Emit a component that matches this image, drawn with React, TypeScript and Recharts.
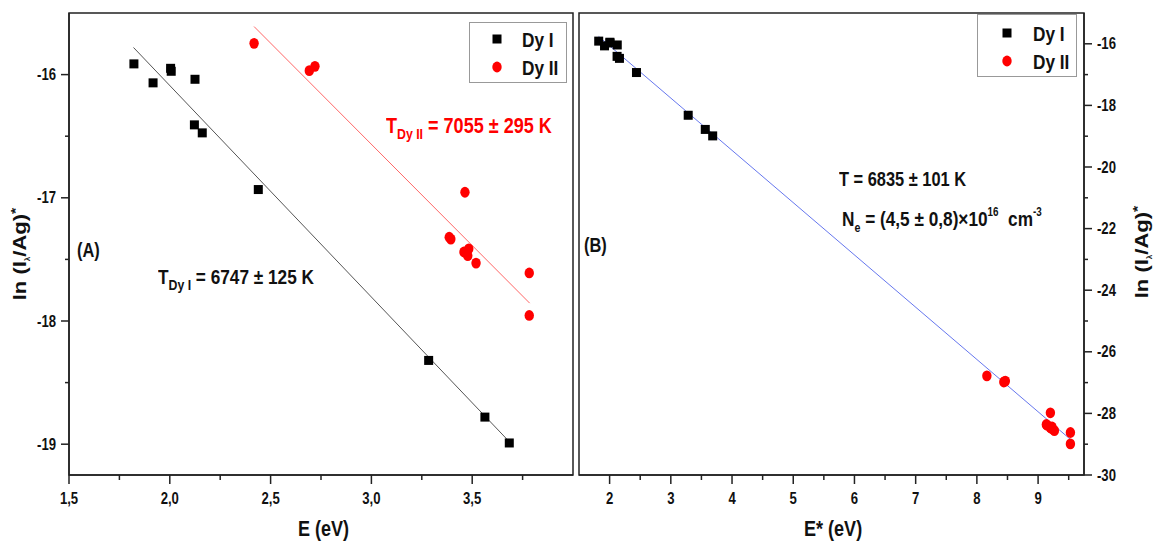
import React from "react";
import { ComposedChart, Scatter, Line, XAxis, YAxis, ReferenceArea } from "recharts";

// Dy I lines (E = E* for neutral atoms)
const eDyI = [1.822, 1.917, 2.004, 2.007, 2.125, 2.122, 2.161, 2.439, 3.284, 3.563, 3.684];
const lnDyI = [-15.913, -16.067, -15.949, -15.973, -16.038, -16.408, -16.473, -16.933, -18.32, -18.78, -18.99];

// Dy II lines, panel A
const eDyII = [2.418, 2.692, 2.72, 3.464, 3.386, 3.394, 3.459, 3.483, 3.478, 3.519, 3.783, 3.783];
const lnDyII = [-15.746, -15.968, -15.933, -16.955, -17.32, -17.335, -17.44, -17.414, -17.47, -17.53, -17.61, -17.955];

// Dy II lines, panel B (corrected E*, ln)
const eStarDyII = [8.163, 8.44, 8.465, 9.201, 9.135, 9.145, 9.2, 9.228, 9.225, 9.266, 9.528, 9.528];
const lnStarDyII = [-26.78, -26.98, -26.95, -27.98, -28.36, -28.38, -28.46, -28.44, -28.5, -28.56, -28.62, -28.99];

// fitted lines (end points)
const fitAx = [1.82, 3.69];
const fitAy = [-15.78, -18.99];
const fitBx = [2.418, 3.785];
const fitBy = [-15.61, -17.855];
const fitSx = [1.82, 9.55];
const fitSy = [-15.76, -28.88];

// ticks
const xTicksA = [1.5, 1.75, 2, 2.25, 2.5, 2.75, 3, 3.25, 3.5, 3.75];
const xMajorA = [1.5, 2, 2.5, 3, 3.5];
const yTicksA = [-19, -18.5, -18, -17.5, -17, -16.5, -16];
const yMajorA = [-19, -18, -17, -16];
const xTicksB = [2, 2.5, 3, 3.5, 4, 4.5, 5, 5.5, 6, 6.5, 7, 7.5, 8, 8.5, 9, 9.5];
const xMajorB = [2, 3, 4, 5, 6, 7, 8, 9];
const yTicksB = [-30, -29, -28, -27, -26, -25, -24, -23, -22, -21, -20, -19, -18, -17, -16];
const yMajorB = [-30, -28, -26, -24, -22, -20, -18, -16];

const toPts = (xs: number[], ys: number[]) => xs.map((x, i) => ({ x, y: ys[i] }));

const FONT = '"Liberation Sans", Arial, sans-serif';
const SQ = 0.82; // narrow look
const AX = "#222";

const Square = (p: any) => <rect x={p.cx - 4.5} y={p.cy - 4.5} width={9} height={9} fill="#000" />;
const Dot = (p: any) => <ellipse cx={p.cx} cy={p.cy} rx={4.7} ry={5.4} fill="#f00" />;

const fmtA = (v: number) => v.toFixed(1).replace(".", ",");
const fmtB = (v: number) => String(v);

const NarrowText = ({ x, y, anchor, children }: any) => (
  <g transform={`translate(${x},${y}) scale(${SQ},1)`}>
    <text x={0} y={0} textAnchor={anchor} fontFamily={FONT} fontWeight="bold" fontSize={16} fill="#111">
      {children}
    </text>
  </g>
);

const BottomTick = ({ x, y, payload, majors, fmt }: any) => {
  const major = majors.includes(payload.value);
  return (
    <g>
      <line x1={x} x2={x} y1={y} y2={y + (major ? 9 : 5)} stroke={AX} strokeWidth={1.5} />
      {major && (
        <NarrowText x={x} y={y + 29} anchor="middle">
          {fmt(payload.value)}
        </NarrowText>
      )}
    </g>
  );
};

const SideTick = ({ x, y, payload, majors, right }: any) => {
  const major = majors.includes(payload.value);
  const len = major ? 8 : 4;
  const d = right ? 1 : -1;
  return (
    <g>
      <line x1={x} x2={x + d * len} y1={y} y2={y} stroke={AX} strokeWidth={1.5} />
      {major && (
        <NarrowText x={x + d * 13} y={y + 5.5} anchor={right ? "start" : "end"}>
          {payload.value}
        </NarrowText>
      )}
    </g>
  );
};

// html text, baseline-placed, horizontally squeezed
const T = ({ left, base, size, color = "#111", children }: any) => (
  <div
    style={{
      position: "absolute",
      left,
      top: base - size * 0.8465,
      fontFamily: FONT,
      fontWeight: "bold",
      fontSize: size,
      lineHeight: 1,
      whiteSpace: "nowrap",
      color,
      transform: `scaleX(${SQ})`,
      transformOrigin: "0 0",
    }}
  >
    {children}
  </div>
);

const Sub = ({ size, dy, children }: any) => (
  <span style={{ fontSize: size, position: "relative", top: dy }}>{children}</span>
);

const LegendBox = ({ l, t, w, h, mx, tx, b1, b2 }: any) => (
  <>
    <div
      style={{
        position: "absolute",
        left: l,
        top: t,
        width: w,
        height: h,
        border: "1px solid #999",
        background: "#fff",
        boxSizing: "border-box",
      }}
    />
    <svg width={20} height={h} style={{ position: "absolute", left: mx - 10, top: t }}>
      <rect x={5.5} y={b1 - t - 12.5} width={9} height={9} fill="#000" />
      <ellipse cx={10} cy={b2 - t - 8} rx={4.7} ry={5.4} fill="#f00" />
    </svg>
    <T left={tx} base={b1} size={21}>Dy I</T>
    <T left={tx} base={b2} size={21}>Dy II</T>
  </>
);

const YTitle = ({ cx, cy }: any) => (
  <div
    style={{
      position: "absolute",
      left: cx,
      top: cy,
      fontFamily: FONT,
      fontWeight: "bold",
      fontSize: 22,
      lineHeight: 1,
      whiteSpace: "nowrap",
      color: "#111",
      transform: `translate(-50%, -50%) scaleX(${SQ}) rotate(-90deg)`,
    }}
  >
    ln (I<Sub size={8} dy={5}>λ</Sub>/Ag)<Sub size={16} dy={-7}>*</Sub>
  </div>
);

export default function App() {
  const dyI = toPts(eDyI, lnDyI);
  const dyII = toPts(eDyII, lnDyII);
  const dyIIStar = toPts(eStarDyII, lnStarDyII);

  return (
    <div style={{ position: "absolute", left: 0, top: 0, width: 1153, height: 545, background: "#fff", overflow: "hidden" }}>
      <div style={{ position: "absolute", left: 0, top: 0 }}>
        <ComposedChart width={576} height={545} margin={{ top: 13, right: 3, left: 0, bottom: 0 }}>
          <XAxis
            type="number"
            dataKey="x"
            domain={[1.5, 4]}
            ticks={xTicksA}
            interval={0}
            height={70}
            tickSize={0}
            tickMargin={0}
            tickLine={false}
            axisLine={{ stroke: AX, strokeWidth: 1.5 }}
            tick={<BottomTick majors={xMajorA} fmt={fmtA} />}
            allowDataOverflow
          />
          <YAxis
            type="number"
            dataKey="y"
            domain={[-19.25, -15.5]}
            ticks={yTicksA}
            interval={0}
            width={69}
            tickSize={0}
            tickMargin={0}
            tickLine={false}
            axisLine={{ stroke: AX, strokeWidth: 1.5 }}
            tick={<SideTick majors={yMajorA} />}
            allowDataOverflow
          />
          <ReferenceArea x1={1.5} x2={4} y1={-19.25} y2={-15.5} fill="none" stroke={AX} strokeWidth={1.5} />
          <Line data={toPts(fitAx, fitAy)} dataKey="y" stroke="#555" strokeWidth={1} dot={false} isAnimationActive={false} />
          <Line data={toPts(fitBx, fitBy)} dataKey="y" stroke="#ff6666" strokeWidth={1} dot={false} isAnimationActive={false} />
          <Scatter data={dyI} shape={Square} isAnimationActive={false} />
          <Scatter data={dyII} shape={Dot} isAnimationActive={false} />
        </ComposedChart>
      </div>

      <div style={{ position: "absolute", left: 576, top: 0 }}>
        <ComposedChart width={577} height={545} margin={{ top: 13, right: 0, left: 3, bottom: 0 }}>
          <XAxis
            type="number"
            dataKey="x"
            domain={[1.5, 9.75]}
            ticks={xTicksB}
            interval={0}
            height={70}
            tickSize={0}
            tickMargin={0}
            tickLine={false}
            axisLine={{ stroke: AX, strokeWidth: 1.5 }}
            tick={<BottomTick majors={xMajorB} fmt={fmtB} />}
            allowDataOverflow
          />
          <YAxis
            type="number"
            dataKey="y"
            orientation="right"
            domain={[-30, -15]}
            ticks={yTicksB}
            interval={0}
            width={69}
            tickSize={0}
            tickMargin={0}
            tickLine={false}
            axisLine={{ stroke: AX, strokeWidth: 1.5 }}
            tick={<SideTick majors={yMajorB} right />}
            allowDataOverflow
          />
          <ReferenceArea x1={1.5} x2={9.75} y1={-30} y2={-15} fill="none" stroke={AX} strokeWidth={1.5} />
          <Line data={toPts(fitSx, fitSy)} dataKey="y" stroke="#6677ee" strokeWidth={1} dot={false} isAnimationActive={false} />
          <Scatter data={dyI} shape={Square} isAnimationActive={false} />
          <Scatter data={dyIIStar} shape={Dot} isAnimationActive={false} />
        </ComposedChart>
      </div>

      {/* axis titles */}
      <T left={298} base={537} size={22}>E (eV)</T>
      <T left={804} base={537} size={22}>E* (eV)</T>
      <YTitle cx={20} cy={254} />
      <YTitle cx={1142} cy={252} />

      {/* legends */}
      <LegendBox l={469} t={22} w={98} h={61} mx={497} tx={522} b1={47} b2={75} />
      <LegendBox l={977} t={14} w={100} h={63} mx={1007} tx={1033} b1={41} b2={69} />

      {/* annotations */}
      <T left={77} base={257} size={20}>(A)</T>
      <T left={584} base={252} size={20}>(B)</T>
      <T left={158} base={284} size={21}>
        T<Sub size={15} dy={6}>Dy I</Sub> = 6747 ± 125 K
      </T>
      <T left={386} base={134} size={22} color="#f00">
        T<Sub size={15} dy={6}>Dy II</Sub> = 7055 ± 295 K
      </T>
      <T left={839} base={186} size={20}>T = 6835 ± 101 K</T>
      <T left={842} base={226} size={21}>
        N<Sub size={13} dy={6}>e</Sub> = (4,5 ± 0,8)×10<Sub size={12} dy={-10}>16</Sub>&nbsp; cm
        <Sub size={12} dy={-10}>-3</Sub>
      </T>
    </div>
  );
}
